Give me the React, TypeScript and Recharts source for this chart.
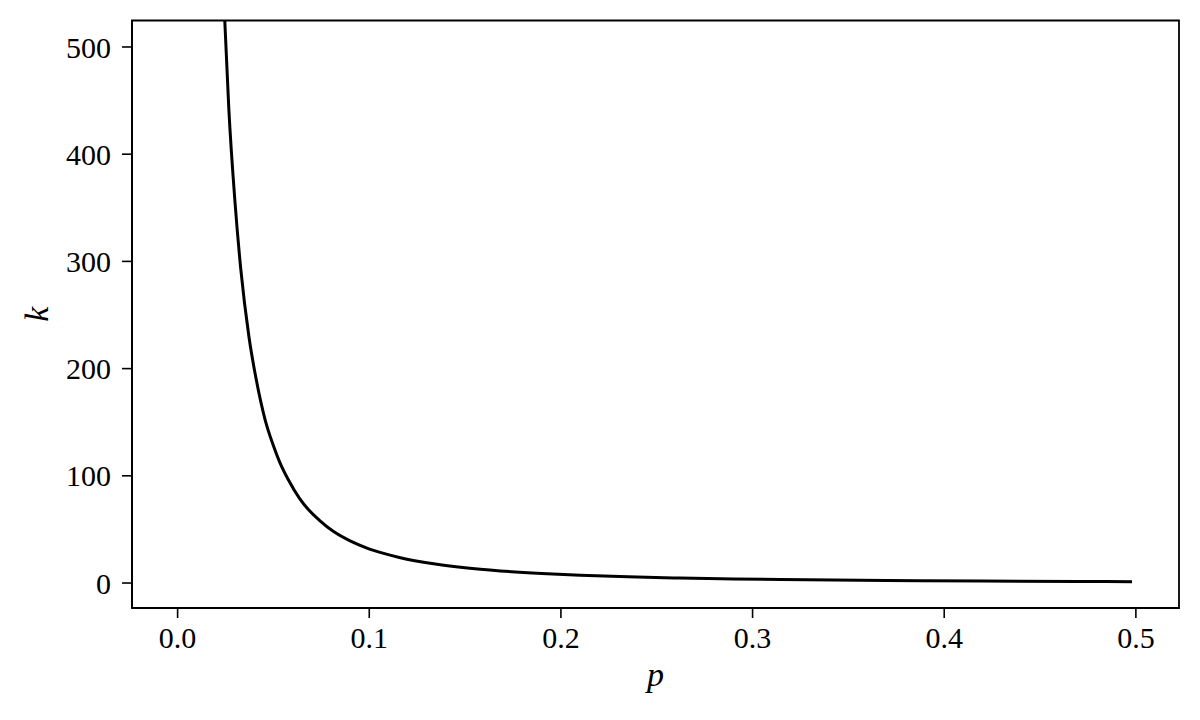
import React from "react";
import { LineChart, Line, XAxis, YAxis, Label, ReferenceArea } from "recharts";

const pValues = [0.02, 0.0246, 0.0267, 0.03, 0.033, 0.0372, 0.041, 0.0457, 0.05, 0.0532, 0.0577, 0.0636, 0.068, 0.074, 0.0814, 0.09, 0.0988, 0.108, 0.1162, 0.1336, 0.15, 0.1684, 0.19, 0.21, 0.235, 0.262, 0.29, 0.3146, 0.37, 0.42, 0.47, 0.498];
const kValues = [800, 525, 443, 354, 292, 230, 190, 152, 128, 113, 96.5, 79, 69, 58.5, 48, 39.3, 32.6, 27.4, 23.6, 17.9, 14.2, 11.3, 8.9, 7.3, 5.8, 4.65, 3.8, 3.25, 2.35, 1.82, 1.45, 1.3];
const xTicks = [0, 0.1, 0.2, 0.3, 0.4, 0.5];
const yTicks = [0, 100, 200, 300, 400, 500];

const data = pValues.map((p, i) => ({ p, k: kValues[i] }));

const X_DOMAIN: [number, number] = [-0.0238, 0.5225];
const Y_DOMAIN: [number, number] = [-23.3, 524.7];

const FONT = "'Liberation Serif', 'Times New Roman', serif";
const tickStyle = { fontFamily: FONT, fontSize: 30, fill: "#000" };

export default function App() {
  return (
    <div style={{ width: 1184, height: 704, background: "#fff" }}>
      <LineChart
        width={1184}
        height={704}
        data={data}
        margin={{ top: 12.5, right: 13, left: 0, bottom: 0 }}
      >
        <XAxis
          xAxisId="main"
          dataKey="p"
          type="number"
          domain={X_DOMAIN}
          allowDataOverflow
          ticks={xTicks}
          tickFormatter={(v: number) => v.toFixed(1)}
          height={104}
          stroke="#000"
          axisLine={{ stroke: "#000", strokeWidth: 1.8 }}
          tickLine={{ stroke: "#000", strokeWidth: 1.6 }}
          tickSize={10}
          tickMargin={9}
          tick={tickStyle}
          interval={0}
        >
          <Label
            content={(props: any) => {
              const vb = props.viewBox || { x: 124, y: 600, width: 1047 };
              return (
                <text
                  x={vb.x + vb.width / 2}
                  y={vb.y + 78}
                  textAnchor="middle"
                  fontFamily={FONT}
                  fontStyle="italic"
                  fontSize={34}
                  fill="#000"
                >
                  p
                </text>
              );
            }}
          />
        </XAxis>
        <YAxis
          yAxisId="main"
          type="number"
          domain={Y_DOMAIN}
          allowDataOverflow
          ticks={yTicks}
          width={124}
          axisLine={{ stroke: "#000", strokeWidth: 1.8 }}
          tickLine={{ stroke: "#000", strokeWidth: 1.6 }}
          tickSize={10}
          tickMargin={11}
          tick={tickStyle}
          interval={0}
        >
          <Label
            content={(props: any) => {
              const vb = props.viewBox || { x: 0, y: 12.5, height: 587.5 };
              const cx = 40;
              const cy = vb.y + vb.height / 2;
              return (
                <text
                  x={cx}
                  y={cy}
                  transform={`rotate(-90 ${cx} ${cy})`}
                  textAnchor="middle"
                  fontFamily={FONT}
                  fontStyle="italic"
                  fontSize={34}
                  fill="#000"
                >
                  k
                </text>
              );
            }}
          />
        </YAxis>
        <ReferenceArea
          xAxisId="main"
          yAxisId="main"
          x1={X_DOMAIN[0]}
          x2={X_DOMAIN[1]}
          y1={Y_DOMAIN[0]}
          y2={Y_DOMAIN[1]}
          fill="none"
          fillOpacity={0}
          stroke="#000"
          strokeWidth={1.8}
          ifOverflow="visible"
        />
        <Line
          xAxisId="main"
          yAxisId="main"
          type="monotone"
          dataKey="k"
          stroke="#000"
          strokeWidth={3}
          dot={false}
          activeDot={false}
          isAnimationActive={false}
        />
      </LineChart>
    </div>
  );
}
